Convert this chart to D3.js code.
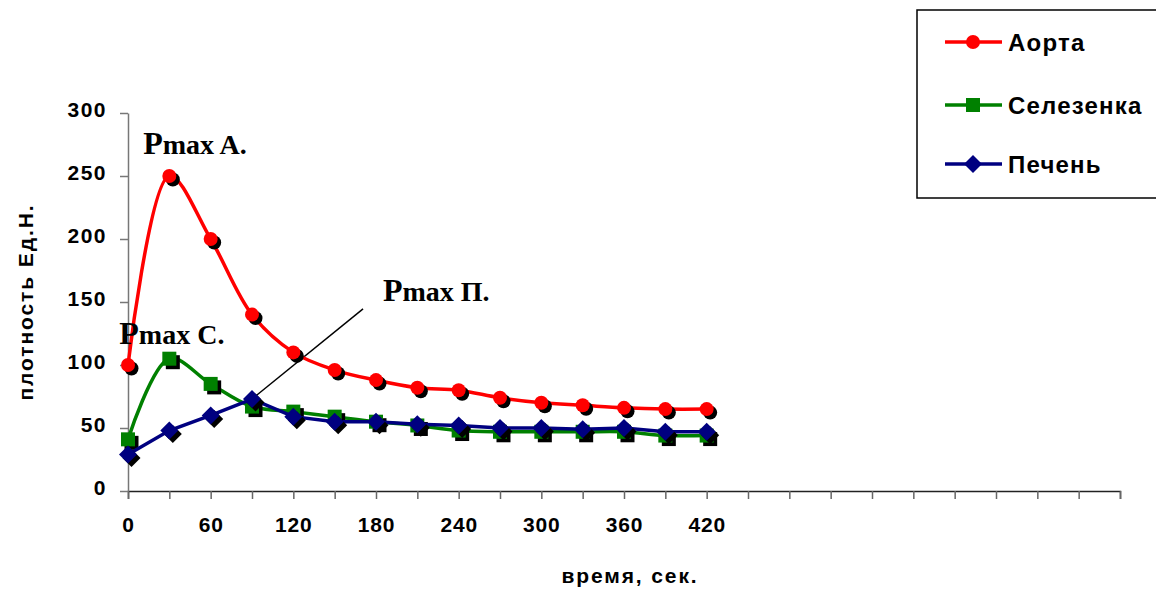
<!DOCTYPE html>
<html>
<head>
<meta charset="utf-8">
<script src="https://cdn.jsdelivr.net/npm/d3@7/dist/d3.min.js"></script>
<style>
  body { margin: 0; background: #fff; }
  svg { display: block; }
</style>
</head>
<body>
<figure id="chart" style="margin:0"></figure>
<script>
// time points, sec
const time = [0, 30, 60, 90, 120, 150, 180, 210, 240, 270, 300, 330, 360, 390, 420];
// density, units
const aorta  = [100, 250, 200, 140, 110, 96, 88, 82, 80, 74, 70, 68, 66, 65, 65];
const spleen = [41, 105, 85, 67, 63, 59, 55, 52, 48, 47, 47, 47, 47, 44, 44];
const liver  = [29, 48, 60, 73, 59, 55, 55, 53, 52, 50, 50, 49, 50, 47, 47];

const xTicks = [0, 30, 60, 90, 120, 150, 180, 210, 240, 270, 300, 330, 360, 390, 420,
                450, 480, 510, 540, 570, 600, 630, 660, 690, 720];
const xTickLabels = [0, 60, 120, 180, 240, 300, 360, 420];
const yTicks = [0, 50, 100, 150, 200, 250, 300];

const width = 1156, height = 589;
const margin = { top: 113, right: 36, bottom: 98, left: 128 };

const svg = d3.select("figure#chart")
  .append("svg")
  .attr("width", width)
  .attr("height", height);

const x = d3.scaleLinear().domain([0, 720]).range([margin.left, width - margin.right]);
const y = d3.scaleLinear().domain([0, 300]).range([height - margin.bottom, margin.top]);

const sans = "Liberation Sans, Arial, sans-serif";

// x axis
const xAxis = svg.append("g")
  .attr("transform", `translate(0,${y(0)})`)
  .call(d3.axisBottom(x).tickValues(xTicks).tickSize(8)
    .tickFormat(d => xTickLabels.includes(d) ? d : ""));
xAxis.select(".domain").attr("stroke", "#222").attr("stroke-width", 1.5);
xAxis.selectAll(".tick line").attr("stroke", "#666").attr("stroke-width", 1.5);
xAxis.selectAll(".tick text")
  .attr("y", 26).attr("dy", "0.71em")
  .style("font-family", sans)
  .style("font-weight", "bold").style("font-size", "21px")
  .style("letter-spacing", "0.8px").attr("fill", "#000");

// y axis
const yAxis = svg.append("g")
  .attr("transform", `translate(${x(0)},0)`)
  .call(d3.axisLeft(y).tickValues(yTicks).tickSize(8).tickSizeOuter(0));
yAxis.select(".domain").attr("stroke", "#777").attr("stroke-width", 1.5);
yAxis.selectAll(".tick line").attr("stroke", "#777").attr("stroke-width", 1.5);
yAxis.selectAll(".tick text")
  .attr("x", -21).attr("dy", "0.15em")
  .style("font-family", sans)
  .style("font-weight", "bold").style("font-size", "21px")
  .style("letter-spacing", "1.5px").attr("fill", "#000");

// axis titles
svg.append("text")
  .attr("x", 630).attr("y", 583)
  .attr("text-anchor", "middle")
  .style("font-family", sans)
  .style("font-weight", "bold").style("font-size", "21px")
  .style("letter-spacing", "1.9px")
  .text("время, сек.");

svg.append("text")
  .attr("transform", "translate(33,302) rotate(-90)")
  .attr("text-anchor", "middle")
  .style("font-family", sans)
  .style("font-weight", "bold").style("font-size", "21px")
  .style("letter-spacing", "1.9px")
  .text("плотность Ед.Н.");

const series = [
  { name: "Аорта", values: aorta, color: "#ff0000", shape: "circle", curve: d3.curveCatmullRom.alpha(0.5) },
  { name: "Селезенка", values: spleen, color: "#008000", shape: "square", curve: d3.curveCatmullRom.alpha(0.5) },
  { name: "Печень", values: liver, color: "#000080", shape: "diamond", curve: d3.curveLinear }
];

function marker(g, shape, cx, cy, fill) {
  if (shape === "circle") {
    g.append("circle").attr("cx", cx).attr("cy", cy).attr("r", 7).attr("fill", fill);
  } else if (shape === "square") {
    g.append("rect").attr("x", cx - 7).attr("y", cy - 7).attr("width", 14).attr("height", 14).attr("fill", fill);
  } else {
    g.append("path")
      .attr("d", `M${cx},${cy - 9}L${cx + 9},${cy}L${cx},${cy + 9}L${cx - 9},${cy}Z`)
      .attr("fill", fill);
  }
}

// annotation pointer, under the markers
svg.append("line")
  .attr("x1", x(90)).attr("y1", y(73))
  .attr("x2", x(170.6)).attr("y2", y(144.5))
  .attr("stroke", "#000").attr("stroke-width", 1.5);

series.forEach(s => {
  const pts = time.map((t, i) => [x(t), y(s.values[i])]);
  svg.append("path")
    .datum(pts)
    .attr("fill", "none")
    .attr("stroke", s.color)
    .attr("stroke-width", 3.5)
    .attr("d", d3.line().curve(s.curve));

  const g = svg.append("g");
  pts.forEach(p => {
    marker(g, s.shape, p[0] + 3.5, p[1] + 3.5, "#000");
    marker(g, s.shape, p[0], p[1], s.color);
  });
});

// annotations
const notes = [
  { label: "max A.", t: 11, v: 267.5 },
  { label: "max C.", t: -6.3, v: 116.5 },
  { label: "max П.", t: 185, v: 151 }
];
notes.forEach(n => {
  const txt = svg.append("text")
    .attr("x", x(n.t)).attr("y", y(n.v))
    .style("font-family", "Liberation Serif, Times New Roman, serif")
    .style("font-weight", "bold");
  txt.append("tspan").style("font-size", "32px").text("P");
  txt.append("tspan").style("font-size", "28px").text(n.label);
});

// legend
const legend = svg.append("g");
legend.append("rect")
  .attr("x", 917).attr("y", 10).attr("width", 260).attr("height", 188)
  .attr("fill", "#fff").attr("stroke", "#000").attr("stroke-width", 1.5);
const legendY = [42, 105, 164];
series.forEach((s, i) => {
  const ly = legendY[i];
  legend.append("line")
    .attr("x1", 945).attr("x2", 1002).attr("y1", ly).attr("y2", ly)
    .attr("stroke", s.color).attr("stroke-width", 3.5);
  marker(legend, s.shape, 973, ly, s.color);
  legend.append("text")
    .attr("x", 1008).attr("y", ly).attr("dy", "0.36em")
    .style("font-family", sans)
    .style("font-weight", "bold").style("font-size", "24px")
    .style("letter-spacing", "1.2px")
    .text(s.name);
});
</script>
</body>
</html>
